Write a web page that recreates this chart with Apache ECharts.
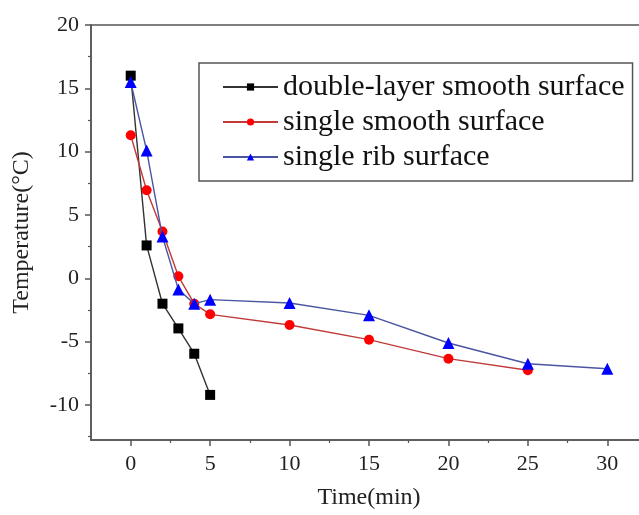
<!DOCTYPE html>
<html>
<head>
<meta charset="utf-8">
<script src="https://cdn.jsdelivr.net/npm/echarts@6/dist/echarts.min.js"></script>
<style>html,body{margin:0;padding:0;background:#fff;overflow:hidden;}#c{width:660px;height:515px;}</style>
</head>
<body>
<div id="c"></div>
<script>
const seriesNames = ['double-layer smooth surface', 'single smooth surface', 'single rib surface'];
const timeDouble = [0, 1, 2, 3, 4, 5];
const tempDouble = [16.0, 2.6, -2.0, -3.95, -5.95, -9.2];
const timeSmooth = [0, 1, 2, 3, 4, 5, 10, 15, 20, 25];
const tempSmooth = [11.3, 6.95, 3.7, 0.16, -2.0, -2.84, -3.68, -4.84, -6.34, -7.25];
const timeRib = [0, 1, 2, 3, 4, 5, 10, 15, 20, 25, 30];
const tempRib = [15.5, 10.1, 3.3, -0.87, -2.0, -1.68, -1.95, -2.92, -5.1, -6.74, -7.13];
const xTicks = [0, 5, 10, 15, 20, 25, 30];
const xMinorTicks = [2.5, 7.5, 12.5, 17.5, 22.5, 27.5, 32.5];
const yTicks = [-10, -5, 0, 5, 10, 15, 20];
const yMinorTicks = [-12.5, -7.5, -2.5, 2.5, 7.5, 12.5, 17.5];

const pair = (xs, ys) => xs.map((x, i) => [x, ys[i]]);
const FONT = '"Liberation Serif", "Times New Roman", serif';
const AX = '#555';

const chart = echarts.init(document.getElementById('c'), null, {renderer: 'canvas'});
chart.setOption({
  animation: false,
  backgroundColor: '#fff',
  grid: {left: 91, top: 25, width: 556, height: 415, show: true, borderColor: AX, borderWidth: 1.5, backgroundColor: 'transparent'},
  xAxis: [{
    type: 'value', min: -2.5, max: 32.5, position: 'bottom',
    name: 'Time(min)', nameLocation: 'middle', nameGap: 46,
    nameTextStyle: {fontFamily: FONT, fontSize: 24, color: '#222'},
    axisLine: {show: true, onZero: false, lineStyle: {color: AX, width: 1.5}},
    axisTick: {show: true, inside: false, length: 6, customValues: xTicks, lineStyle: {color: AX, width: 1.5}},
    axisLabel: {customValues: xTicks, fontFamily: FONT, fontSize: 22, color: '#222', margin: 13},
    splitLine: {show: false}
  }, {
    type: 'value', min: -2.5, max: 32.5, position: 'bottom', gridIndex: 0,
    axisLine: {show: false, onZero: false},
    axisTick: {show: true, inside: false, length: 3, customValues: xMinorTicks, lineStyle: {color: AX, width: 1.2}},
    axisLabel: {show: false}, splitLine: {show: false}
  }],
  yAxis: [{
    type: 'value', min: -12.76, max: 20, position: 'left',
    name: 'Temperature(°C)', nameLocation: 'middle', nameGap: 57, nameRotate: 90,
    nameTextStyle: {fontFamily: FONT, fontSize: 24, color: '#222'},
    axisLine: {show: true, onZero: false, lineStyle: {color: AX, width: 1.5}},
    axisTick: {show: true, inside: false, length: 6, customValues: yTicks, lineStyle: {color: AX, width: 1.5}},
    axisLabel: {customValues: yTicks, fontFamily: FONT, fontSize: 22, color: '#222', margin: 12},
    splitLine: {show: false}
  }, {
    type: 'value', min: -12.76, max: 20, position: 'left', gridIndex: 0,
    axisLine: {show: false, onZero: false},
    axisTick: {show: true, inside: false, length: 3, customValues: yMinorTicks, lineStyle: {color: AX, width: 1.2}},
    axisLabel: {show: false}, splitLine: {show: false}
  }],
  legend: {
    show: true, orient: 'vertical', left: 199, top: 63,
    padding: [9, 8, 9, 23], itemGap: 5,
    borderColor: AX, borderWidth: 1.5, backgroundColor: '#fff',
    itemWidth: 55, itemHeight: 9,
    textStyle: {fontFamily: FONT, fontSize: 30, color: '#111', lineHeight: 30},
    data: seriesNames
  },
  series: [{
    name: seriesNames[0], type: 'line', data: pair(timeDouble, tempDouble),
    symbol: 'rect', symbolSize: 10,
    itemStyle: {color: '#000'}, lineStyle: {color: '#333', width: 1.4}, z: 3
  }, {
    name: seriesNames[1], type: 'line', data: pair(timeSmooth, tempSmooth),
    symbol: 'circle', symbolSize: 10,
    itemStyle: {color: '#ff0000'}, lineStyle: {color: '#c03a3a', width: 1.4}, z: 4
  }, {
    name: seriesNames[2], type: 'line', data: pair(timeRib, tempRib),
    symbol: 'triangle', symbolSize: 12,
    itemStyle: {color: '#0000ff'}, lineStyle: {color: '#4a55a0', width: 1.4}, z: 5
  }]
});
</script>
</body>
</html>
